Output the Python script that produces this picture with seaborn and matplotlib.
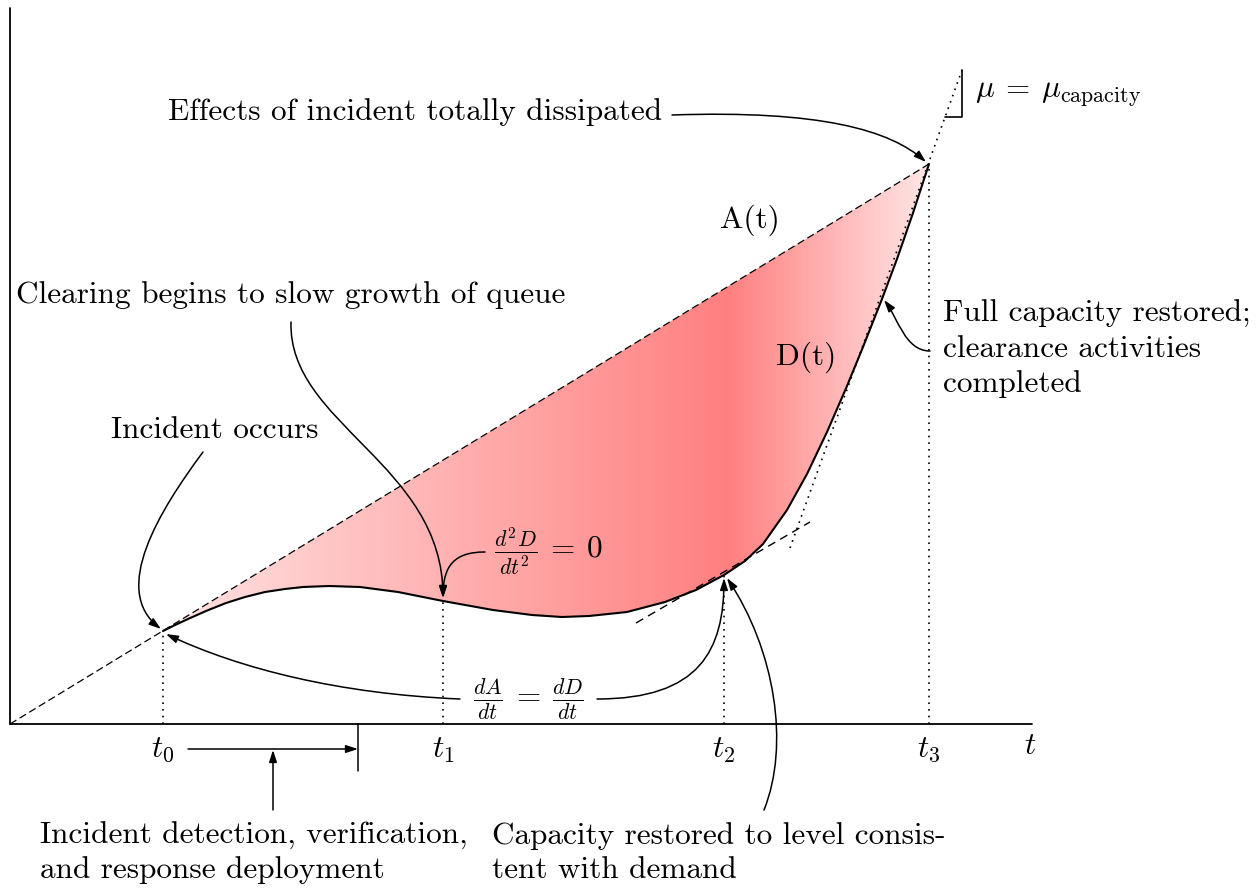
import numpy as np
import matplotlib
matplotlib.use('Agg')
import matplotlib.pyplot as plt
from matplotlib.path import Path
from matplotlib.patches import FancyArrowPatch, Polygon
from matplotlib.colors import LinearSegmentedColormap
import seaborn as sb

# cumulative arrivals A(t) and departures D(t)
arrival_t = [0, 919]
arrival_v = [0, 560]
departure_t = [153, 165, 178, 196, 216, 235, 255, 275, 293, 319, 350, 388, 433, 483, 522,
               552, 579, 617, 655, 686, 714, 735, 753, 777, 797, 817, 837, 853, 872, 887,
               903, 919]
departure_v = [93, 99, 105, 113, 121, 127, 132, 135, 137, 138, 137, 132, 123, 114, 109,
               107, 108, 112, 122, 134, 149, 163, 180, 214, 250, 292, 338, 377, 425, 465,
               511, 560]

# event times and their labels
event_t = [153, 433, 714, 919]
event_v = [93, 123, 149, 560]
event_labels = ['$t_0$', '$t_1$', '$t_2$', '$t_3$']

# tangent at t2 (dA/dt = dD/dt) and at t3 (capacity slope)
tangent2_t = [626, 800]
tangent2_v = [101, 202]
tangent3_t = [780, 952]
tangent3_v = [176, 654]
slope_mark_t = [935, 952, 952]
slope_mark_v = [607, 607, 654]

FS = 22.5

sb.set_theme(style='white')
plt.rcParams['font.family'] = ['cmr10', 'DejaVu Serif']
plt.rcParams['mathtext.fontset'] = 'cm'
plt.rcParams['axes.formatter.use_mathtext'] = True
plt.rcParams['text.color'] = 'black'

fig = plt.figure(figsize=(12.57, 8.91), dpi=100)
ax = fig.add_axes([0, 0, 1, 1])
ax.set_axis_off()

# gradient filled queue area between A and D
cmap = LinearSegmentedColormap.from_list(
    'queue', [(0.0, (1, 0.89, 0.89)), (0.74, (1, 0.5, 0.5)), (1.0, (1, 0.9, 0.9))])
grad = np.linspace(0, 1, 600).reshape(1, -1)
im = ax.imshow(grad, cmap=cmap, extent=[153, 919, 85, 565], aspect='auto',
               origin='lower', zorder=1, interpolation='bilinear')
a_at_t0 = arrival_v[1] * departure_t[0] / arrival_t[1]
poly_pts = [(departure_t[0], a_at_t0), (arrival_t[1], arrival_v[1])] + \
    list(zip(departure_t[::-1], departure_v[::-1]))
clip = Polygon(poly_pts, closed=True, transform=ax.transData, facecolor='none', edgecolor='none')
ax.add_patch(clip)
im.set_clip_path(clip)

# axes
ax.plot([0, 0], [0, 716], color='black', lw=1.3, zorder=3)
ax.plot([0, 1022], [0, 0], color='black', lw=1.3, zorder=3)

# curves
sb.lineplot(x=arrival_t, y=arrival_v, ax=ax, color='black', lw=0.9,
            linestyle=(0, (6, 3)), sort=False, estimator=None, zorder=4)
sb.lineplot(x=departure_t, y=departure_v, ax=ax, color='black', lw=1.5,
            sort=False, estimator=None, zorder=5, solid_joinstyle='round')
sb.lineplot(x=tangent2_t, y=tangent2_v, ax=ax, color='black', lw=1.0,
            linestyle=(0, (6, 4)), sort=False, estimator=None, zorder=4)
sb.lineplot(x=tangent3_t, y=tangent3_v, ax=ax, color='black', lw=1.2,
            linestyle=(0, (1, 3)), sort=False, estimator=None, zorder=4)
sb.lineplot(x=slope_mark_t, y=slope_mark_v, ax=ax, color='black', lw=1.2,
            sort=False, estimator=None, zorder=4)

for t, v, lab in zip(event_t, event_v, event_labels):
    ax.plot([t, t], [0, v], color='black', lw=1.2, linestyle=(0, (1, 3)), zorder=4)
    ax.text(t, -26, lab, fontsize=FS, ha='center', va='center')
ax.text(1020, -22, '$t$', fontsize=FS, ha='center', va='center')

HEAD = '-|>,head_length=0.55,head_width=0.18'


def bez_arrow(pts):
    path = Path(pts, [Path.MOVETO, Path.CURVE4, Path.CURVE4, Path.CURVE4])
    ax.add_patch(FancyArrowPatch(path=path, arrowstyle=HEAD, mutation_scale=13,
                                 color='black', lw=1.1, zorder=6))


def straight_arrow(p0, p1):
    ax.add_patch(FancyArrowPatch(p0, p1, arrowstyle=HEAD, mutation_scale=13,
                                 color='black', lw=1.1, shrinkA=0, shrinkB=0, zorder=6))


# annotations
ax.text(652, 612, 'Effects of incident totally dissipated', fontsize=FS, ha='right', va='center')
bez_arrow([(662, 609), (810, 614), (880, 594), (916, 562)])

ax.text(740, 504, 'A(t)', fontsize=FS, ha='center', va='center')
ax.text(796, 367, 'D(t)', fontsize=FS, ha='center', va='center')

ax.text(281, 429, 'Clearing begins to slow growth of queue', fontsize=FS, ha='center', va='center')
bez_arrow([(281, 402), (278, 300), (433, 260), (433, 126)])

ax.text(205, 294, 'Incident occurs', fontsize=FS, ha='center', va='center')
bez_arrow([(193, 272), (150, 214), (100, 134), (151, 95)])

ax.text(538, 172, r'$\frac{d^2D}{dt^2} \:=\: 0$', fontsize=FS, ha='center', va='center')
bez_arrow([(475, 172), (445, 172), (433, 159), (433, 126)])

ax.text(518, 25, r'$\frac{dA}{dt} \:=\: \frac{dD}{dt}$', fontsize=FS, ha='center', va='center')
bez_arrow([(450, 25), (330, 30), (230, 55), (156, 90)])
bez_arrow([(587, 25), (690, 25), (714, 74), (714, 146)])

ax.text(933, 375, 'Full capacity restored;\nclearance activities\ncompleted', fontsize=FS,
        ha='left', va='center', linespacing=1.3)
bez_arrow([(920, 373), (895, 373), (888, 406), (874, 424)])

ax.text(965, 629, r'$\mu \:=\: \mu_{\mathrm{capacity}}$', fontsize=FS, ha='left', va='center')

ax.text(482, -129, 'Capacity restored to level consis-\ntent with demand', fontsize=FS,
        ha='left', va='center', linespacing=1.3)
bez_arrow([(754, -86), (780, -21), (765, 74), (717, 146)])

ax.text(30, -129, 'Incident detection, verification,\nand response deployment', fontsize=FS,
        ha='left', va='center', linespacing=1.3)
straight_arrow((178, -25), (348, -25))
ax.plot([348, 348], [0, -47], color='black', lw=1.1, zorder=4)
straight_arrow((263, -86), (263, -26))

ax.set_xlim(-10, 1247)
ax.set_ylim(-167, 724)

fig.savefig('out.png', dpi=100)
